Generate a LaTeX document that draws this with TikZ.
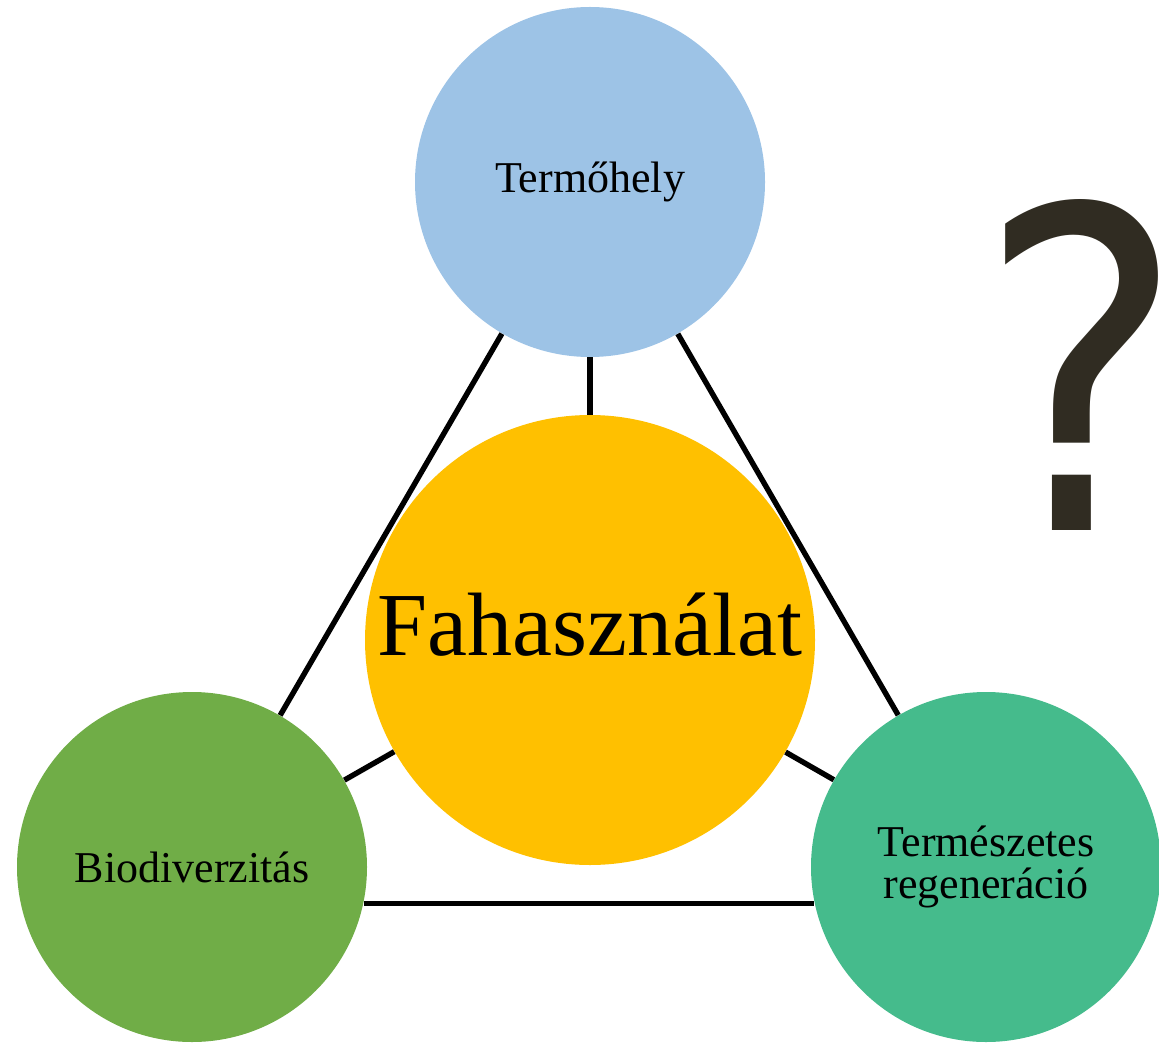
\documentclass[tikz,border=0pt]{standalone}
\usepackage{fontspec}
\setmainfont{Liberation Serif}
\newfontfamily\qmarkfont{DejaVu Sans}
\usepackage{xcolor}
\usepackage{tikz}
\usetikzlibrary{calc}

\definecolor{siteblue}{HTML}{9DC3E6}
\definecolor{woodgold}{HTML}{FFC000}
\definecolor{biogreen}{HTML}{70AD47}
\definecolor{regengreen}{HTML}{45BB8C}
\definecolor{qdark}{HTML}{302C22}

\begin{document}
\begin{tikzpicture}[
        x=0.5pt, y=-0.5pt,
        every node/.style={align=center, text=black},
        bubble/.style={circle, inner sep=0pt, minimum size=175pt},
        link/.style={line width=2.7pt, black}
    ]

    % Frame of the page
    \useasboundingbox (0,0) rectangle (1159,1042);

    % Constants for placement
    \def\xmid{590}     % Vertical axis of the triangle
    \def\ytop{182}     % Top circle
    \def\ymid{640}     % Central circle
    \def\ybot{867}     % Bottom circles
    \def\xleft{192}
    \def\xright{986}

    % --- Circles ---
    \node[bubble, fill=siteblue, font=\fontsize{22}{24}\selectfont] (site) at (\xmid, \ytop) {Termőhely};
    \node[bubble, fill=woodgold, minimum size=225pt, text depth=16pt, font=\fontsize{45}{50}\selectfont] (wood) at (\xmid, \ymid) {Fahasználat};
    \node[bubble, fill=biogreen, font=\fontsize{22}{24}\selectfont] (bio) at (\xleft, \ybot) {Biodiverzitás};
    \node[bubble, fill=regengreen, font=\fontsize{22}{21}\selectfont] (regen) at (\xright, \ybot) {Természetes\\regeneráció};

    % --- Links ---
    \draw[link] (site) -- (wood);
    \draw[link] (site) -- (bio);
    \draw[link] (site) -- (regen);
    \draw[link] (wood) -- (bio);
    \draw[link] (wood) -- (regen);
    \draw[link] (bio.-12) -- (regen.192);

    % Question mark
    \node[anchor=base west, inner sep=0pt, text=qdark, font=\qmarkfont\fontsize{223}{223}\selectfont] (query) at (977, 530) {\scalebox{0.88}[1]{?}};

\end{tikzpicture}
\end{document}
